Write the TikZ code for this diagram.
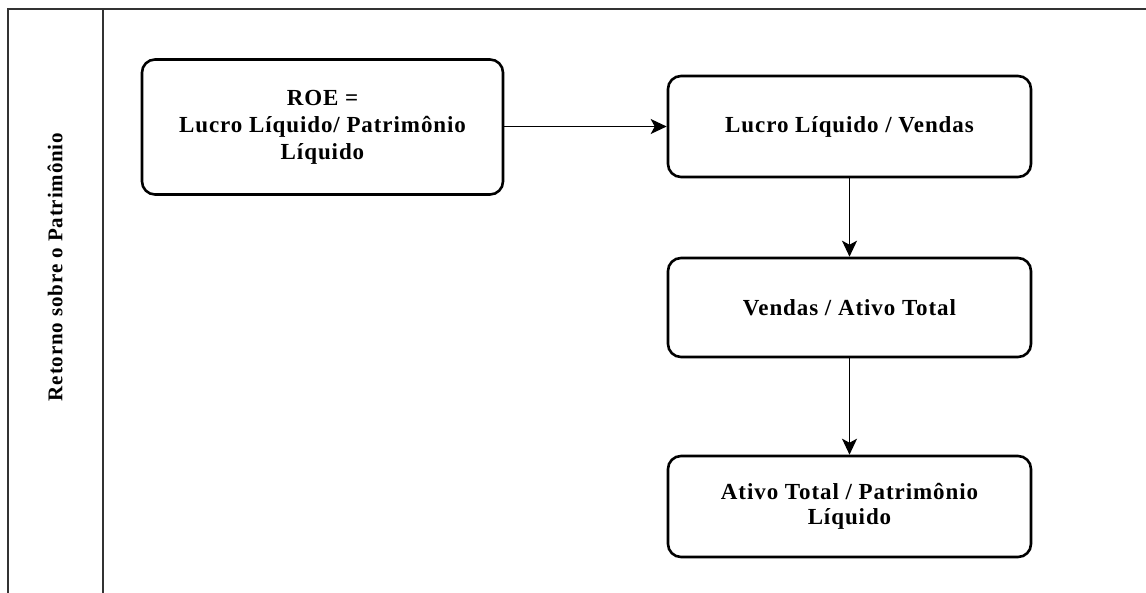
\documentclass[tikz,border=0pt]{standalone}
\usepackage{fontspec}
\setmainfont{Liberation Serif}
\newfontfamily\boxfont{Liberation Serif}[LetterSpace=4]
\usetikzlibrary{arrows.meta}
\begin{document}
\begin{tikzpicture}[x=1pt,y=-1pt,
  frame/.style={draw=black!80,line width=1.4pt},
  stagebox/.style={draw,line width=2.6pt,rounded corners=13pt,fill=white,
    align=center,font=\boxfont\fontsize{23}{27}\selectfont\bfseries,inner sep=0pt},
  link/.style={line width=1.5pt,-{Stealth[length=16pt,width=15pt,inset=4pt]}}]
\useasboundingbox (0,0) rectangle (1146,592);
\fill[white] (0,0) rectangle (1146,592);
\draw[frame] (8,600) -- (8,9) -- (1150,9);
\draw[frame] (103,9) -- (103,600);
\node[rotate=90,font=\boxfont\fontsize{21}{25}\selectfont\bfseries] (lane) at (55,267) {Retorno sobre o Patrimônio};
\node[stagebox,minimum width=361pt,minimum height=135pt] (roe) at (322.5,127) {ROE =\\Lucro Líquido/ Patrimônio\\Líquido};
\node[stagebox,minimum width=363pt,minimum height=101pt] (lv) at (849.5,126.5) {Lucro Líquido / Vendas};
\node[stagebox,minimum width=363pt,minimum height=99pt] (va) at (849.5,307.5) {Vendas / Ativo Total};
\node[stagebox,minimum width=363pt,minimum height=101pt,font=\boxfont\fontsize{23}{25}\selectfont\bfseries] (ap) at (849.5,506.5) {Ativo Total / Patrimônio\\Líquido};
\draw[link] (roe.east |- lv.west) -- (lv.west);
\draw[link] (lv.south) -- (va.north);
\draw[link] (va.south) -- (ap.north);
\end{tikzpicture}
\end{document}
